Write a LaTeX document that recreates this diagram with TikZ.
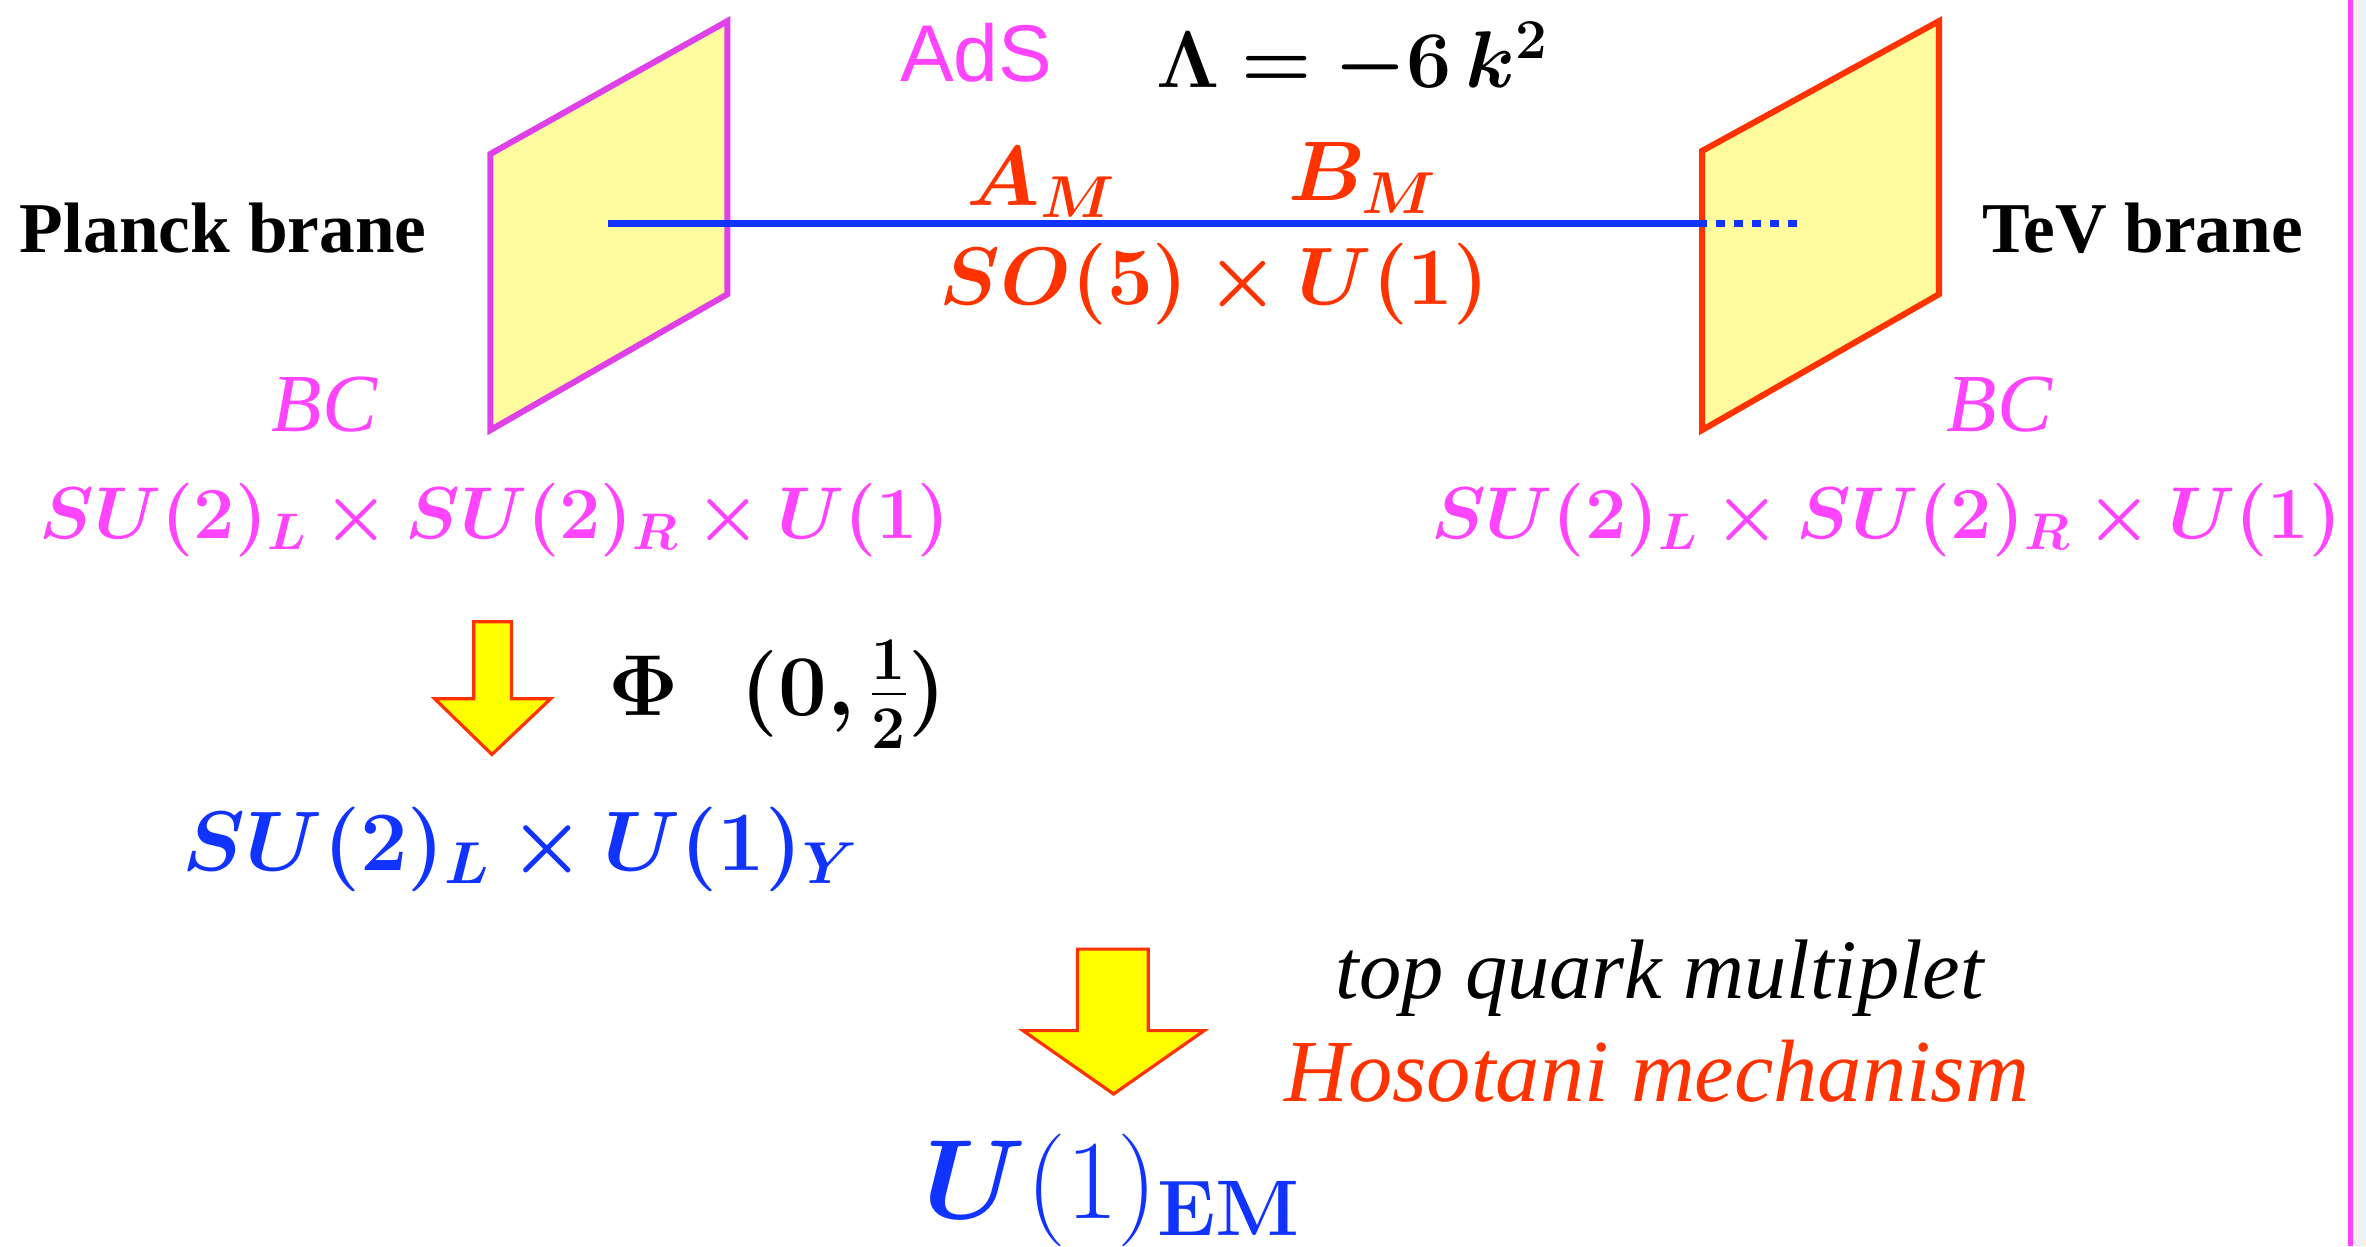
\RequirePackage{fix-cm}
\documentclass[tikz,border=0pt]{standalone}
\usepackage{amsmath,bm}
\usepackage[no-math]{fontspec}
\setmainfont{Liberation Serif}
\newfontfamily\adsfont{Liberation Sans}
\definecolor{mag}{HTML}{FF44FF}
\definecolor{bmag}{HTML}{E040E8}
\definecolor{rd}{HTML}{FF3300}
\definecolor{bl}{HTML}{1133FF}
\definecolor{pale}{HTML}{FFFCA0}
\definecolor{arrowyellow}{HTML}{FFFF00}
\definecolor{edgegray}{HTML}{F0F0F2}
\tikzset{
  lbl/.style={inner sep=0pt, outer sep=0pt},
  branefill/.style={fill=pale, line width=3pt, line join=miter},
  bline/.style={draw=bl, line width=3.2pt},
  fatarrow/.style={fill=arrowyellow, draw=rd, line width=1.6pt, line join=miter},
}
\newcommand{\fsz}[1]{\fontsize{#1}{#1}\selectfont}
\begin{document}
\begin{tikzpicture}[x=0.75pt,y=-0.75pt]
\useasboundingbox (0,0) rectangle (1568,826);
% right edge strip
\fill[edgegray] (1557,0) rectangle (1568,826);
\draw[mag, line width=2.4pt] (1557.5,0) -- (1557.5,826);
% branes
\draw[branefill, draw=bmag] (325,102) -- (482,14) -- (482,195) -- (325,285) -- cycle;
\draw[branefill, draw=rd] (1128,100) -- (1285,14) -- (1285,195) -- (1128,285) -- cycle;
% bulk line
\coordinate (lineL) at (403,148);
\coordinate (lineR) at (1131,148);
\coordinate (dotE) at (1196,148);
\draw[bline] (lineL) -- (lineR);
\draw[bline, dash pattern=on 4.5pt off 4.5pt, dash phase=4.5pt] (lineR) -- (dotE);
% labels top
\node[lbl, text=black, font=\fsz{35.5}\bfseries] (planck) at (148,151) {Planck brane};
\node[lbl, text=black, font=\fsz{35.5}\bfseries] (tev) at (1420,151) {TeV brane};
\node[lbl, text=mag, font=\fsz{40}\adsfont] (ads) at (647,35) {AdS};
\node[lbl, text=black, font=\fsz{40}] (cosm) at (896,40) {$\bm{\Lambda = -6\,k^2}$};
\node[lbl, text=rd, font=\fsz{42}] (am) at (690,121) {$\bm{A_M}$};
\node[lbl, text=rd, font=\fsz{42}] (bmfield) at (903,118) {$\bm{B_M}$};
\node[lbl, text=rd, font=\fsz{40.5}] (so5) at (805,188) {$\bm{SO(5)\times U(1)}$};
\node[lbl, text=mag, font=\fsz{41}\itshape] (bcL) at (215,268) {BC};
\node[lbl, text=mag, font=\fsz{41}\itshape] (bcR) at (1325,268) {BC};
\node[lbl, text=mag, font=\fsz{36.5}] (grpL) at (328,345) {$\bm{SU(2)_L\times SU(2)_R\times U(1)}$};
\node[lbl, text=mag, font=\fsz{36.5}] (grpR) at (1250,345) {$\bm{SU(2)_L\times SU(2)_R\times U(1)}$};
% first breaking
\draw[fatarrow] (314,412) -- (339,412) -- (339,463) -- (365,463) -- (326,500) -- (288,463) -- (314,463) -- cycle;
\node[lbl, text=black, font=\fsz{43}] (phi) at (515,460) {$\bm{\Phi}\mkern13mu\bm{(0,\tfrac{1}{2})}$};
\node[lbl, text=bl, font=\fsz{42}] (smg) at (345,563) {$\bm{SU(2)_L\times U(1)_Y}$};
% second breaking
\draw[fatarrow] (714,629) -- (761,629) -- (761,683) -- (798,683) -- (738,725) -- (678,683) -- (714,683) -- cycle;
\node[lbl, text=black, font=\fsz{42}\itshape] (top) at (1100,648) {top quark multiplet};
\node[lbl, text=rd, font=\fsz{44}\itshape] (hoso) at (1098,710) {Hosotani mechanism};
\node[lbl, text=bl, font=\fsz{56}] (em) at (737,789) {$\bm{U}(1)_{\mathbf{EM}}$};
\end{tikzpicture}
\end{document}
